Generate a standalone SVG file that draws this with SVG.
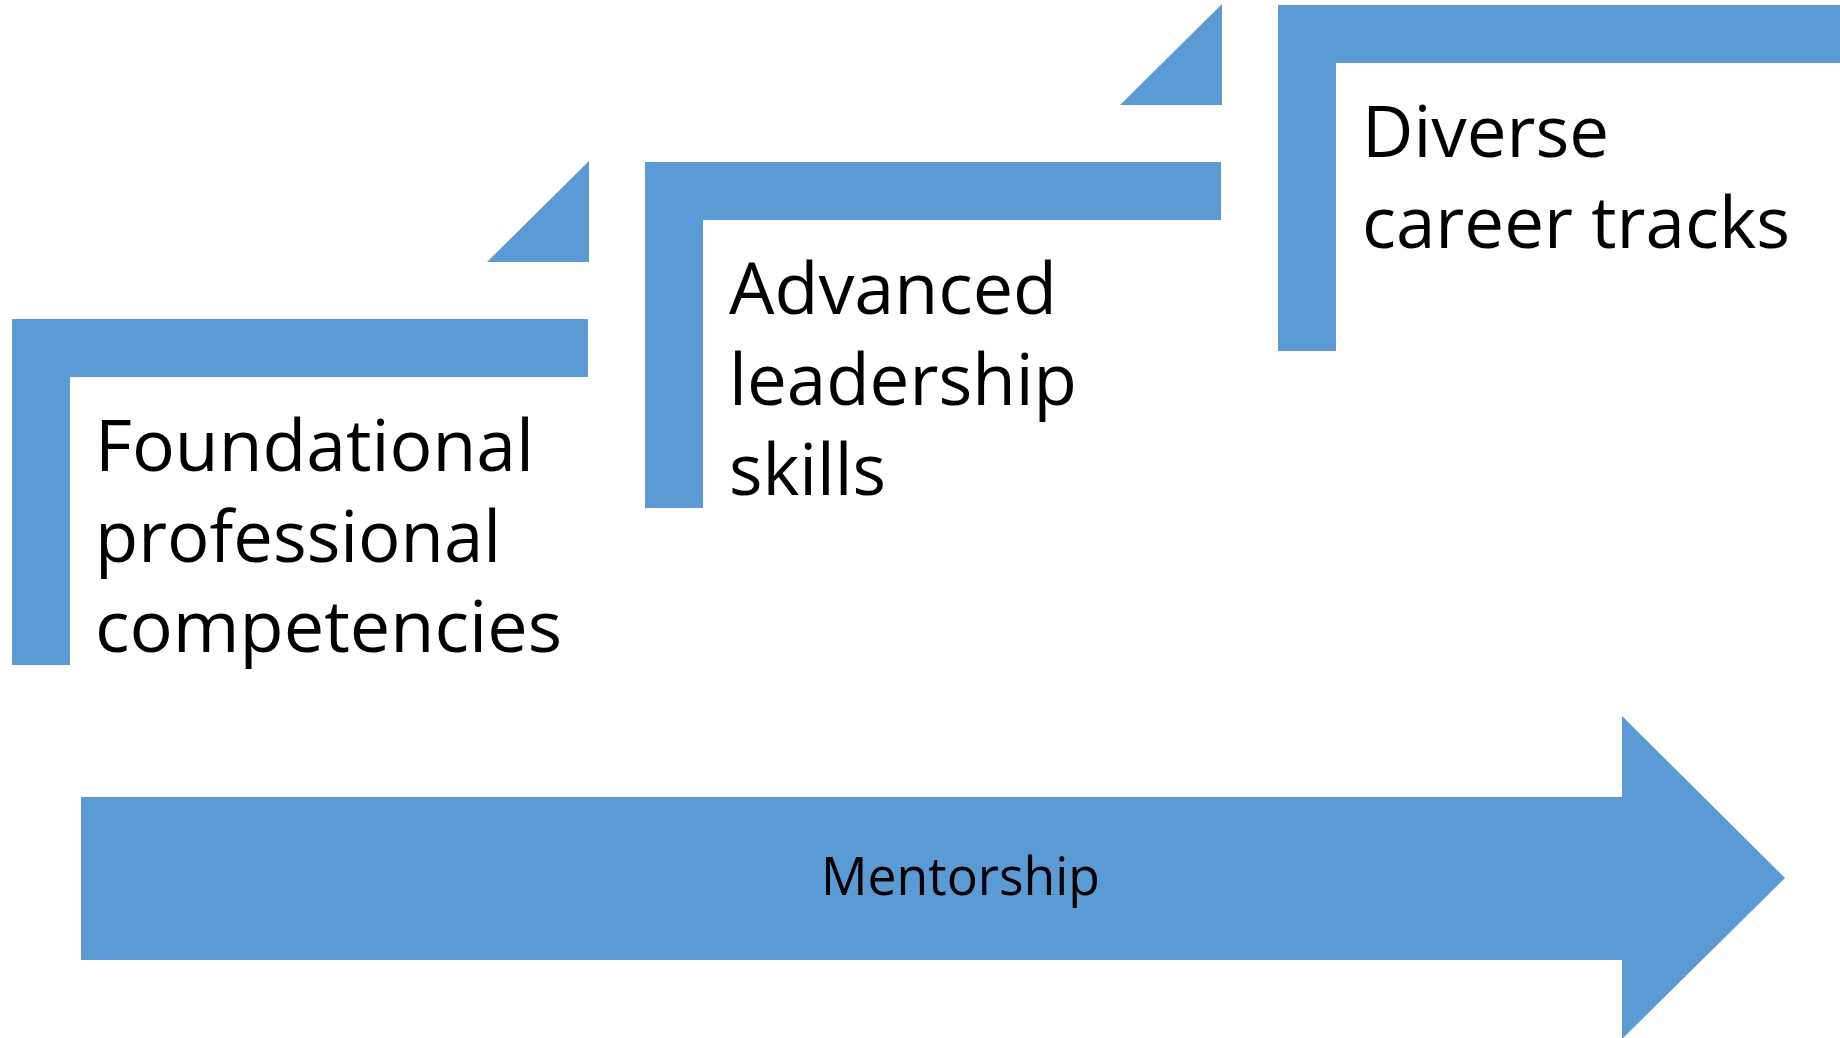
<svg xmlns="http://www.w3.org/2000/svg" width="1840" height="1038" viewBox="0 0 1840 1038">
<style>
.shape{fill:#5B9BD5;stroke:none}
.big{font-family:"Open Sans","Noto Sans",sans-serif;font-size:72px;fill:#000}
.mid{font-family:"Open Sans","Noto Sans",sans-serif;font-size:53px;fill:#000}
</style>
<rect width="1840" height="1038" fill="#fff"/>
<g id="step1">
<path class="shape" d="M12 319H588V377H70V665H12Z"/>
<path class="shape" d="M487 262H589V161Z"/>
<text class="big"><tspan x="95" y="471" textLength="439" lengthAdjust="spacingAndGlyphs">Foundational</tspan><tspan x="95" y="561.7" textLength="406" lengthAdjust="spacingAndGlyphs">professional</tspan><tspan x="95" y="652.4" textLength="467" lengthAdjust="spacingAndGlyphs">competencies</tspan></text>
</g>
<g id="step2">
<path class="shape" d="M645 162H1221V220H703V508H645Z"/>
<path class="shape" d="M1120 105H1222V4Z"/>
<text class="big"><tspan x="729" y="314" textLength="328" lengthAdjust="spacingAndGlyphs">Advanced</tspan><tspan x="729" y="404.7" textLength="348" lengthAdjust="spacingAndGlyphs">leadership</tspan><tspan x="729" y="495.4" textLength="157" lengthAdjust="spacingAndGlyphs">skills</tspan></text>
</g>
<g id="step3">
<path class="shape" d="M1278 5H1840V63H1336V351H1278Z"/>
<text class="big"><tspan x="1362" y="157" textLength="247" lengthAdjust="spacingAndGlyphs">Diverse</tspan><tspan x="1362" y="247.7" textLength="428" lengthAdjust="spacingAndGlyphs">career tracks</tspan></text>
</g>
<g id="mentorship">
<path class="shape" d="M81 797H1622V716L1785 878L1622 1039V960H81Z"/>
<text class="mid" x="821" y="895" textLength="279" lengthAdjust="spacingAndGlyphs">Mentorship</text>
</g>
</svg>
